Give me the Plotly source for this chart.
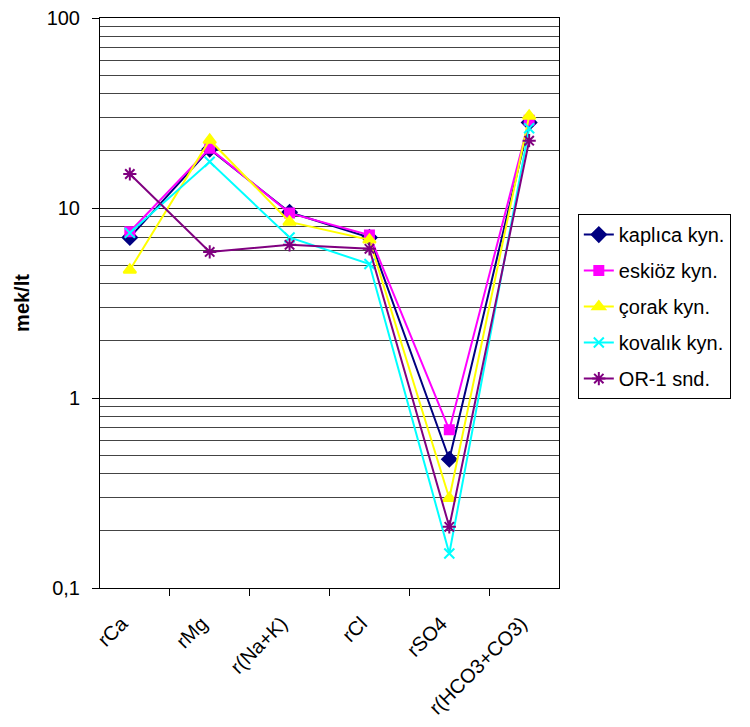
import plotly.graph_objects as go

categories = ["rCa", "rMg", "r(Na+K)", "rCl", "rSO4", "r(HCO3+CO3)"]
kaplica = [7.0, 20.4, 9.5, 7.0, 0.476, 28.2]
eskioz = [7.5, 20.6, 9.4, 7.2, 0.68, 29.0]
corak = [4.72, 22.8, 8.45, 6.8, 0.297, 30.5]
kovalik = [7.4, 17.5, 7.0, 5.07, 0.152, 26.3]
or1 = [15.1, 5.87, 6.4, 6.1, 0.21, 22.6]

series = [
    ("kaplıca kyn.", kaplica, "#000080", "diamond", 11),
    ("eskiöz kyn.", eskioz, "#FF00FF", "square", 9),
    ("çorak kyn.", corak, "#FFFF00", "triangle-up", 11),
    ("kovalık kyn.", kovalik, "#00FFFF", "x-thin-open", 10),
    ("OR-1 snd.", or1, "#800080", "asterisk-open", 11),
]

FONT = "Liberation Sans, Arial"

fig = go.Figure()
for name, vals, color, sym, size in series:
    fig.add_trace(go.Scatter(
        x=categories, y=vals, name=name, mode="lines+markers",
        legendgroup=name,
        line=dict(color=color, width=2),
        marker=dict(symbol=sym, size=size, color=color,
                    line=dict(color=color, width=2)),
    ))

# page body has an 8px margin, so offset margins to land the plot area
fig.update_layout(
    width=750, height=727,
    margin=dict(l=92, r=199, t=10, b=147),
    paper_bgcolor="white", plot_bgcolor="white",
    font=dict(family=FONT, size=20, color="black"),
    showlegend=True,
    legend=dict(x=1.041, y=0.656, xanchor="left", yanchor="top",
                bordercolor="black", borderwidth=1, bgcolor="white",
                font=dict(size=20), tracegroupgap=7),
)
fig.update_xaxes(
    type="category", tickangle=-45, ticks="outside", ticklen=7,
    tickson="boundaries", showline=True, linecolor="black", linewidth=1,
    mirror=True, showgrid=False, tickcolor="black", automargin=False,
    ticklabelstandoff=15, ticklabelshift=-8, ticklabeloverflow="allow",
    tickfont=dict(size=20),
)
fig.update_yaxes(
    type="log", range=[-1, 2], showline=True, linecolor="black", linewidth=1,
    mirror=True, ticks="outside", ticklen=7, tickcolor="black", automargin=False,
    tickvals=[0.1, 1, 10, 100], ticktext=["0,1", "1", "10", "100"],
    ticklabelstandoff=8, ticklabeloverflow="allow",
    showgrid=True, gridcolor="#222222", gridwidth=1,
    minor=dict(showgrid=True, gridcolor="#444444", gridwidth=1,
               tickvals=[v * m for m in (0.1, 1, 10) for v in range(2, 10)]),
    title=dict(text="<b>mek/lt</b>", font=dict(size=20), standoff=11),
    tickfont=dict(size=20),
)
fig.write_html("out.html")
